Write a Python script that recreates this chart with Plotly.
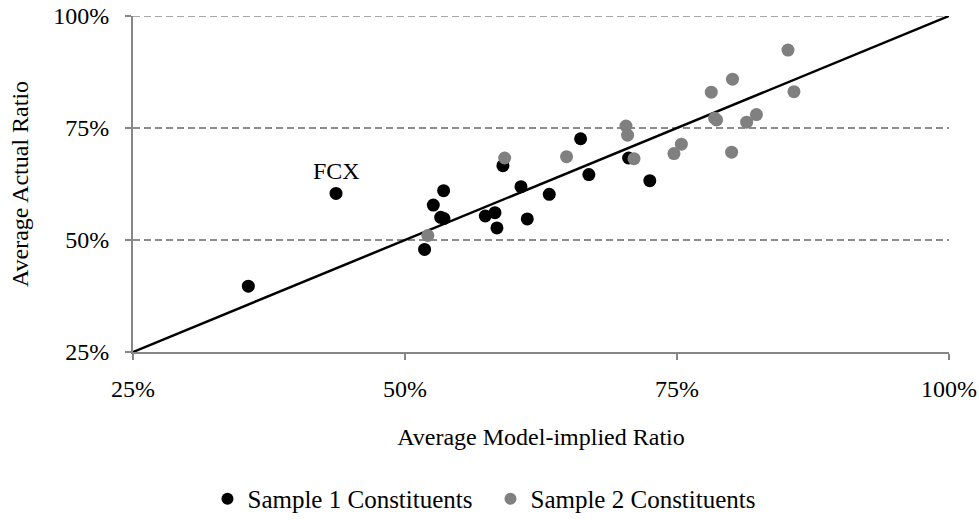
import plotly.graph_objects as go

# Sample 1 constituents (model-implied, actual)
s1_x = [0.356, 0.4366, 0.518, 0.526, 0.5355, 0.5328, 0.5358, 0.5738, 0.5827, 0.5845,
        0.590, 0.6066, 0.6124, 0.6326, 0.6614, 0.669, 0.7055, 0.725]
s1_y = [0.397, 0.604, 0.479, 0.578, 0.610, 0.5507, 0.548, 0.5536, 0.561, 0.527,
        0.666, 0.619, 0.547, 0.602, 0.726, 0.646, 0.683, 0.6325]

# Sample 2 constituents
s2_x = [0.521, 0.5916, 0.6485, 0.7031, 0.7046, 0.7105, 0.7472, 0.754, 0.7815, 0.7846,
        0.7864, 0.801, 0.8002, 0.814, 0.823, 0.852, 0.8575]
s2_y = [0.510, 0.683, 0.686, 0.7545, 0.734, 0.6815, 0.693, 0.714, 0.830, 0.772,
        0.768, 0.859, 0.696, 0.763, 0.780, 0.924, 0.831]

# 45-degree reference line
diag = [0.25, 1.0]

tick_vals = [0.25, 0.50, 0.75, 1.00]
tick_text = ["25%", "50%", "75%", "100%"]

label_text = "FCX"
label_x = s1_x[1]
label_y = s1_y[1]

FONT = "Liberation Serif, Times New Roman, serif"
AXIS_GRAY = "#868686"
GRID_GRAY = "#8c8c8c"
GRID_DASH = "7px,4px"

fig = go.Figure()
fig.add_trace(go.Scatter(x=diag, y=diag, mode="lines",
                         line=dict(color="black", width=2.5),
                         showlegend=False, hoverinfo="skip"))
fig.add_trace(go.Scatter(x=s1_x, y=s1_y, mode="markers", name="Sample 1 Constituents",
                         marker=dict(color="black", size=13)))
fig.add_trace(go.Scatter(x=s2_x, y=s2_y, mode="markers", name="Sample 2 Constituents",
                         marker=dict(color="#808080", size=13)))

fig.add_annotation(x=label_x, y=label_y, text=label_text, showarrow=False,
                   yshift=22, font=dict(family=FONT, size=24, color="black"))

# top gridline (plotly omits the grid line at the range edge)
fig.add_shape(type="line", xref="paper", yref="y", x0=0, x1=1, y0=tick_vals[-1], y1=tick_vals[-1],
              line=dict(color=GRID_GRAY, width=1.5, dash=GRID_DASH), layer="below")

fig.update_layout(
    width=979, height=520,
    margin=dict(l=133, r=30, t=16, b=168, autoexpand=False),
    paper_bgcolor="white", plot_bgcolor="white",
    font=dict(family=FONT, size=24, color="black"),
    legend=dict(orientation="h", xref="container", yref="container",
                x=0.501, xanchor="center", y=0.0404, yanchor="middle",
                font=dict(family=FONT, size=25), itemsizing="constant",
                entrywidth=238, entrywidthmode="pixels"),
    xaxis=dict(range=[0.25, 1.0], tickvals=tick_vals, ticktext=tick_text,
               tickfont=dict(family=FONT, size=24),
               showgrid=False, zeroline=False, showline=True, linecolor=AXIS_GRAY,
               linewidth=2, ticks="outside", ticklen=6, tickcolor=AXIS_GRAY, tickwidth=2,
               ticklabelstandoff=8, automargin=False, ticklabeloverflow="allow",
               title=dict(text="Average Model-implied Ratio", standoff=27,
                          font=dict(family=FONT, size=24))),
    yaxis=dict(range=[0.25, 1.0], tickvals=tick_vals, ticktext=tick_text,
               tickfont=dict(family=FONT, size=24),
               showgrid=True, gridcolor=GRID_GRAY, gridwidth=1.5, griddash=GRID_DASH,
               zeroline=False, showline=True, linecolor=AXIS_GRAY,
               linewidth=2, ticks="outside", ticklen=6, tickcolor=AXIS_GRAY, tickwidth=2,
               ticklabelstandoff=11, automargin=False, ticklabeloverflow="allow",
               title=dict(text="Average Actual Ratio", standoff=18,
                          font=dict(family=FONT, size=24))),
)

# remove the page's default 8px body margin so the figure fills the window exactly
fig.write_html("out.html", config={"displayModeBar": False},
               post_script="document.body.style.margin='0';")
